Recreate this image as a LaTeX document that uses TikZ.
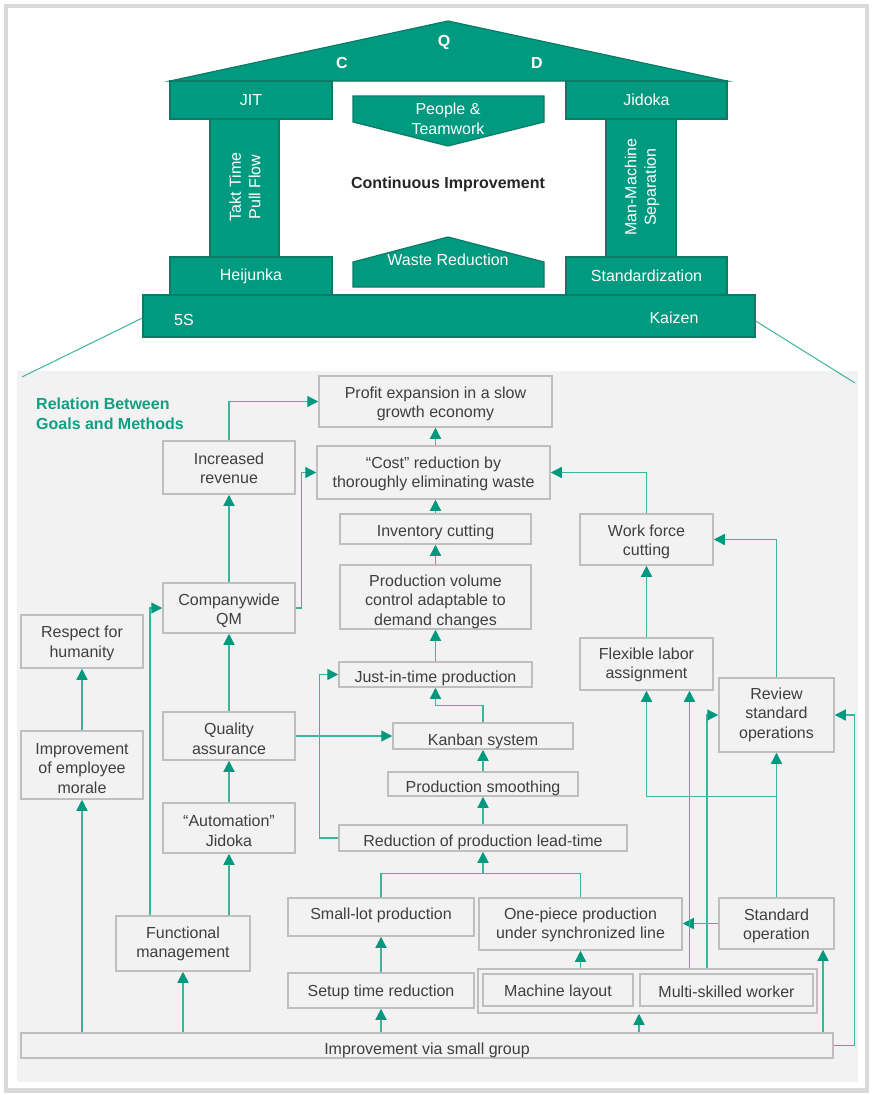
\documentclass[tikz,border=0pt]{standalone}
\usepackage{fontspec}
\setmainfont{Liberation Sans}
\usetikzlibrary{arrows.meta}

\definecolor{hgreen}{HTML}{009A80}
\definecolor{hedge}{HTML}{0B7A66}
\definecolor{lnk}{HTML}{3DB59D}
\definecolor{tipc}{HTML}{00997F}
\definecolor{panel}{HTML}{F2F2F2}
\definecolor{bline}{HTML}{BFBFBF}
\definecolor{txt}{HTML}{3F3F3F}
\definecolor{framec}{HTML}{D9D9D9}
\definecolor{ctext}{HTML}{262626}
\definecolor{titlec}{HTML}{119F84}

% gray goal/method box given by its corners; optional argument lowers the text
\newcommand\gb[7][2]{%
  \node[gbox, minimum width={#5-#3}, minimum height={#6-#4}] (#2) at ({(#3+#5)/2},{(#4+#6)/2}) {};
  \node[gtext] (#2-t) at ([yshift=-#1pt]#2.center) {#7};}

\begin{document}
\begin{tikzpicture}[x=1pt,y=-1pt,
  gbox/.style={draw=bline, line width=1.5pt, fill=panel, inner sep=0pt},
  gtext/.style={inner sep=0pt, align=center, text=txt, font=\fontsize{16}{19.5}\selectfont},
  conn/.style={draw=lnk, line width=1.3pt, -{Triangle[length=11pt,width=11pt,color=tipc]}},
  plain/.style={draw=lnk, line width=1.3pt},
  hpart/.style={fill=hgreen, draw=hedge, line width=1.2pt},
  hbox/.style={hpart, inner sep=0pt, text=white, font=\fontsize{16}{19.5}\selectfont},
  htext/.style={text=white, font=\fontsize{16}{19.5}\selectfont, inner sep=0pt, align=center},
]
\useasboundingbox (0,0) rectangle (871,1095);
\fill[white] (0,0) rectangle (871,1095);
\draw[framec, line width=4.5pt] (6,6) rectangle (867,1090.5);

% lower panel
\fill[panel] (17,371) rectangle (858,1082);

% ---------------- house ----------------
\draw[hpart] (170,81) -- (448,21) -- (727,81) -- cycle;
\node[htext, font=\bfseries\fontsize{16}{19}\selectfont] (q) at (444,42) {Q};
\node[htext, font=\bfseries\fontsize{16}{19}\selectfont] (c) at (342,63) {C};
\node[htext, font=\bfseries\fontsize{16}{19}\selectfont] (d) at (537,63) {D};

\draw[hpart] (210,119) rectangle (279,257);
\draw[hpart] (606,119) rectangle (676,257);
\node[htext, rotate=90] (takt) at (245,187) {Takt Time\\Pull Flow};
\node[htext, rotate=90] (mms) at (642,187) {Man-Machine\\Separation};

\node[hbox, minimum width=162pt, minimum height=38pt] (jitb) at (251,100) {JIT};
\node[hbox, minimum width=161pt, minimum height=38pt] (jidb) at (646.5,100) {Jidoka};
\node[hbox, minimum width=162pt, minimum height=38pt] (heij) at (251,276) {Heijunka};
\node[hbox, minimum width=161pt, minimum height=38pt] (stdz) at (646.5,276) {Standardization};
\node[hbox, minimum width=612pt, minimum height=42pt] (base) at (449,316) {};
\node[htext, anchor=west] (fives) at (174,320) {5S};
\node[htext] (kaizen) at (674,318) {Kaizen};

\draw[hpart] (353,96) -- (544,96) -- (544,122) -- (448,146) -- (353,122) -- cycle;
\node[htext] (ppl) at (448,119) {People \&\\Teamwork};
\draw[hpart] (353,287) -- (544,287) -- (544,262) -- (448,237) -- (353,262) -- cycle;
\node[htext] (waste) at (448,260) {Waste Reduction};

\node[text=ctext, font=\bfseries\fontsize{16}{19}\selectfont, inner sep=0pt] (ci) at (448,184) {Continuous Improvement};

% lines from the base to the panel
\coordinate (pl) at (22,377);
\coordinate (pr) at (855,383);
\draw[lnk, line width=1pt] ([yshift=-2pt]base.west) -- (pl);
\draw[lnk, line width=1pt] ([yshift=-5pt]base.east) -- (pr);

% ---------------- goals and methods ----------------
\node[anchor=north west, align=left, inner sep=0pt, text=titlec,
  font=\bfseries\fontsize{16}{20}\selectfont] (title) at (36,398) {Relation Between\\Goals and Methods};

\gb[2.5]{profit}{319}{376}{552}{427}{Profit expansion in a slow\\growth economy}
\gb[1]{inc}{163}{441}{295}{494}{Increased\\revenue}
\gb[1.5]{cost}{317}{446}{550}{499}{“Cost” reduction by\\thoroughly eliminating waste}
\gb[3]{inv}{340}{514}{531}{544}{Inventory cutting}
\gb[2.5]{wf}{580}{514}{713}{565}{Work force\\cutting}
\gb[4.5]{vol}{340}{565}{531}{629}{Production volume\\control adaptable to\\demand changes}
\gb[2.5]{cqm}{163}{583}{295}{633}{Companywide\\QM}
\gb[2]{resp}{21}{615}{143}{668}{Respect for\\humanity}
\gb[1]{flex}{580}{638}{713}{690}{Flexible labor\\assignment}
\gb[3.5]{jit}{339}{662}{532}{687}{Just-in-time production}
\gb[-0.5]{rev}{719}{678}{834}{752}{Review\\standard\\operations}
\gb[3]{qa}{163}{712}{295}{760}{Quality\\assurance}
\gb[5]{kan}{393}{723}{573}{749}{Kanban system}
\gb[3.5]{morale}{21}{731}{143}{799}{Improvement\\of employee\\morale}
\gb[4]{smooth}{388}{772}{578}{796}{Production smoothing}
\gb[3]{jid}{163}{803}{295}{853}{“Automation”\\Jidoka}
\gb[4]{lead}{339}{825}{627}{851}{Reduction of production lead-time}
\gb[-2]{small}{288}{898}{474}{936}{Small-lot production}
\gb[1]{one}{479}{898}{682}{950}{One-piece production\\under synchronized line}
\gb[2.5]{std}{719}{898}{834}{949}{Standard\\operation}
\gb[0.5]{func}{116}{916}{250}{971}{Functional\\management}
\gb{mgrp}{478}{969}{817}{1013}{}
\gb[1.5]{setup}{288}{973}{474}{1008}{Setup time reduction}
\gb{mlay}{483}{974}{633}{1006}{Machine layout}
\gb{multi}{640}{974}{813}{1006}{Multi-skilled worker}
\gb[4.5]{grp}{21}{1033}{833}{1058}{Improvement via small group}

% connectors
\draw[conn] (inc.north) |- (profit.west);
\draw[conn] (cqm.east) -- ++(6,0) |- (cost.west);
\draw[conn] (cqm.north) -- (inc.south);
\draw[conn] (cost.north -| profit.south) -- (profit.south);
\draw[conn] (inv.north) -- (cost.south -| inv.north);
\draw[conn] (vol.north) -- (inv.south);
\draw[conn] (jit.north) -- (vol.south);
\draw[conn] (wf.north) |- (cost.east);
\draw[conn] (flex.north) -- (wf.south);
\draw[conn] (rev.north) |- (wf.east);
\draw[conn] (kan.north) -- ++(0,-17) -| (jit.south);
\draw[conn] (qa.east) -- (kan.west);
\draw[conn] (lead.west) -- ++(-19,0) |- (jit.west);
\draw[conn] (smooth.north) -- (kan.south);
\draw[conn] (lead.north) -- (smooth.south);
\draw[plain] (small.north) -- ++(0,-24) coordinate (sj) -| (one.north);
\draw[conn] (sj -| lead.south) -- (lead.south);
\draw[conn] (setup.north) -- (small.south);
\draw[conn] (grp.north -| setup.south) -- (setup.south);
\draw[conn] (mgrp.north -| one.south) -- (one.south);
\coordinate (g1) at ([xshift=-8.5pt]mgrp.south);
\draw[conn] (g1 |- grp.north) -- (g1);
\draw[conn] (std.west) -- (std.west -| one.east);
\draw[conn] (std.north) -- (rev.south);
\draw[conn] (rev.south |- smooth.south) -| (flex.south);
\coordinate (m1) at ([xshift=43pt]flex.south);
\draw[conn] (m1 |- mgrp.north) -- (m1);
\coordinate (m2) at ([xshift=59.5pt]mgrp.north);
\draw[conn] (m2) |- (rev.west);
\coordinate (s1) at ([xshift=46.5pt]std.south);
\draw[conn] (s1 |- grp.north) -- (s1);
\draw[conn] (grp.east) -- ++(21,0) |- (rev.east);
\draw[conn] (grp.north -| morale.south) -- (morale.south);
\draw[conn] (morale.north) -- (resp.south);
\draw[conn] (grp.north -| func.south) -- (func.south);
\coordinate (f1) at ([xshift=-33pt]func.north);
\draw[conn] (f1) |- (cqm.west);
\draw[conn] (func.north -| jid.south) -- (jid.south);
\draw[conn] (jid.north) -- (qa.south);
\draw[conn] (qa.north) -- (cqm.south);
\end{tikzpicture}
\end{document}
